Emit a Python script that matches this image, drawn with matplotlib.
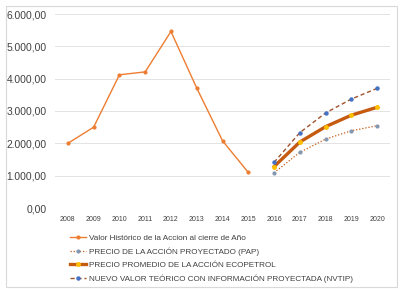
import matplotlib
matplotlib.use("Agg")
import matplotlib.pyplot as plt
from matplotlib.patches import Rectangle
import numpy as np

years = ["2008", "2009", "2010", "2011", "2012", "2013", "2014", "2015",
         "2016", "2017", "2018", "2019", "2020"]
historico = [2000, 2500, 4120, 4210, 5460, 3710, 2080, 1100,
             None, None, None, None, None]
pap = [None] * 8 + [1090, 1720, 2130, 2390, 2545]
promedio = [None] * 8 + [1280, 2040, 2515, 2870, 3115]
nvtip = [None] * 8 + [1410, 2330, 2940, 3370, 3700]

labels = ["Valor Histórico de la Accion al cierre de Año",
          "PRECIO DE LA ACCIÓN PROYECTADO (PAP)",
          "PRECIO PROMEDIO DE LA ACCIÓN ECOPETROL",
          "NUEVO VALOR TEÓRICO CON INFORMACIÓN PROYECTADA (NVTIP)"]

def series(vals):
    x = [i for i, v in enumerate(vals) if v is not None]
    y = [v for v in vals if v is not None]
    return x, y

plt.rcParams['font.family'] = ['Liberation Sans', 'DejaVu Sans']
fig = plt.figure(figsize=(4.04, 2.96), dpi=100)
fig.patches.append(Rectangle((6 / 404, 1 - 287 / 296), 391 / 404, 281 / 296,
                             transform=fig.transFigure, fill=False,
                             edgecolor="#D9D9D9", linewidth=0.8))
ax = fig.add_axes([55 / 404, 1 - 208 / 296, 335 / 404, 194 / 296])

h1, = ax.plot(*series(historico), color="#ED7D31", lw=1.0, marker="o", ms=2,
              label=labels[0])
h2, = ax.plot(*series(pap), color="#C55A11", lw=0.9, ls=(0, (1, 1.5)), marker="o",
              ms=2, mfc="#8497B0", mec="#8497B0", label=labels[1])
h3, = ax.plot(*series(promedio), color="#C55A11", lw=2.4, marker="o", ms=2.5,
              mfc="#FFC000", mec="#FFC000", label=labels[2])
h4, = ax.plot(*series(nvtip), color="#A0522D", lw=1.0, ls=(0, (3, 2)), marker="o",
              ms=2.2, mfc="#4472C4", mec="#4472C4", label=labels[3])

ax.set_xlim(-0.5, len(years) - 0.5)
ax.set_ylim(0, 6000)
ax.set_xticks(range(len(years)))
ax.set_xticklabels(years)
yt = np.arange(0, 6001, 1000)
ax.set_yticks(yt)
ax.set_yticklabels([f"{int(v):,}".replace(",", ".") + ",00" for v in yt])
ax.grid(axis="y", color="#E3E3E3", lw=0.7)
ax.set_axisbelow(True)
for s in ax.spines.values():
    s.set_visible(False)
ax.tick_params(axis="both", length=0, colors="#404040")
ax.tick_params(axis="y", labelsize=7.4, pad=6)
ax.tick_params(axis="x", labelsize=5, pad=6)

leg = fig.legend(handles=[h1, h2, h3, h4], labels=labels,
                 loc="upper left", bbox_to_anchor=(66 / 404, 1 - 230 / 296),
                 frameon=False, fontsize=5.9, handlelength=2.0, handletextpad=0.25,
                 labelspacing=0.68, borderpad=0, labelcolor="#404040",
                 markerscale=1)

fig.savefig("out.png", dpi=100)
